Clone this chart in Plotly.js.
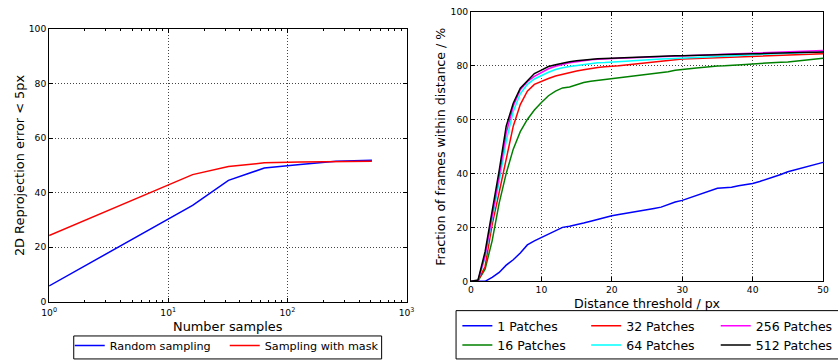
<!DOCTYPE html>
<html><head><meta charset="utf-8">
<script src="https://cdn.plot.ly/plotly-3.0.1.min.js"></script>
<style>html,body{margin:0;padding:0;background:#fff}#chart{width:838px;height:360px}</style>
</head><body><div id="chart"></div>
<script>
// ---- Left panel data ----
const samples = [1, 16, 32, 64, 128, 256, 512];
const randomSampling = [5.8, 35.3, 44.5, 49.0, 50.3, 51.5, 51.9];
const samplingWithMask = [24.3, 46.6, 49.6, 50.9, 51.2, 51.4, 51.5];
const leftNames = ['Random sampling', 'Sampling with mask'];
const leftXTickVals = [1, 10, 100, 1000];
const leftXTickText = ['10<sup>0</sup>', '10<sup>1</sup>', '10<sup>2</sup>', '10<sup>3</sup>'];

// ---- Right panel data ----
const dist = [0,1,2,3,4,5,6,7,8,9,10,11,12,13,14,15,16,17,18,19,20,21,22,23,24,25,26,27,28,29,30,31,32,33,34,35,36,37,38,39,40,41,42,43,44,45,46,47,48,49,50];
const p1 = [0,0,0,1.5,3.3,6.0,8.0,10.5,13.5,15.0,16.2,17.5,18.8,20.0,20.4,20.9,21.6,22.3,23.0,23.7,24.3,24.8,25.2,25.6,26.2,26.5,27.0,27.5,28.5,29.4,30.0,30.9,31.8,32.7,33.5,34.5,34.7,34.9,35.4,35.8,36.3,37.0,37.8,38.7,39.6,40.6,41.3,42.0,42.6,43.2,44.1];
const p16 = [0,0.2,4.5,15,29,40,49,55.5,60,63.5,66.3,68.8,70.5,71.7,72.0,72.9,73.7,74.2,74.5,74.8,75.1,75.5,75.9,76.2,76.5,76.8,77.0,77.3,77.7,78.2,78.6,78.8,79.1,79.4,79.6,79.8,79.9,80.0,80.2,80.4,80.6,80.8,81.0,81.1,81.2,81.3,81.5,81.8,82.1,82.4,82.7];
const p32 = [0,0.3,5.5,21,33,45,57.5,65.5,70.5,73,74.2,75.2,76.1,76.8,77.4,78.0,78.4,78.9,79.3,79.5,79.6,79.9,80.2,80.4,80.7,81.0,81.3,81.6,81.9,82.2,82.4,82.5,82.6,82.7,82.8,82.9,83.0,83.1,83.3,83.5,83.6,83.7,83.8,83.9,84.0,84.0,84.1,84.2,84.3,84.3,84.4];
const p64 = [0,0.3,9,22.5,37,52,63,69.5,73,75,76.3,77.5,78.5,79.2,79.6,80.0,80.4,80.8,81.0,81.1,81.2,81.4,81.6,81.8,82.0,82.2,82.3,82.4,82.5,82.6,82.7,82.8,82.9,83.0,83.2,83.3,83.4,83.5,83.7,83.8,84.0,84.1,84.2,84.3,84.4,84.5,84.6,84.7,84.8,84.9,85.0];
const p256 = [0,0.3,9.5,24,39,55,65,71,74,76,77.5,78.8,79.7,80.4,81.0,81.4,81.8,82.1,82.3,82.5,82.6,82.7,82.8,82.9,83.0,83.2,83.3,83.4,83.5,83.7,83.8,83.9,84.0,84.1,84.2,84.3,84.4,84.5,84.6,84.7,84.8,84.9,85.0,85.1,85.1,85.2,85.3,85.4,85.4,85.5,85.6];
const p512 = [0,0.5,11,25.5,41,57.5,66,71.6,74.5,77,78.3,79.6,80.3,80.9,81.4,81.8,82.1,82.3,82.5,82.6,82.7,82.9,83.0,83.2,83.3,83.4,83.4,83.5,83.5,83.6,83.6,83.7,83.8,83.8,83.9,84.0,84.1,84.1,84.2,84.3,84.4,84.4,84.5,84.6,84.6,84.7,84.8,84.8,84.9,84.9,85.0];
const patchNames = ['1 Patches','16 Patches','32 Patches','64 Patches','256 Patches','512 Patches'];
const patchSeries = [p1, p16, p32, p64, p256, p512];
const patchColors = ['#0000ff','#008000','#ff0000','#00ffff','#ff00ff','#000000'];
const patchLegends = ['legend2','legend2','legend3','legend3','legend4','legend4'];

const W = 838, H = 360;
const fx = p => p / W;
const fy = p => 1 - p / H;
const FONT = 'DejaVu Sans, sans-serif';

const traces = [];
traces.push({x: samples, y: randomSampling, name: leftNames[0], type: 'scatter', mode: 'lines',
  line: {color: '#0000ff', width: 1.5}, xaxis: 'x', yaxis: 'y', legend: 'legend'});
traces.push({x: samples, y: samplingWithMask, name: leftNames[1], type: 'scatter', mode: 'lines',
  line: {color: '#ff0000', width: 1.5}, xaxis: 'x', yaxis: 'y', legend: 'legend'});
patchSeries.forEach((s, i) => traces.push({x: dist, y: s, name: patchNames[i], type: 'scatter', mode: 'lines',
  line: {color: patchColors[i], width: 1.5}, xaxis: 'x2', yaxis: 'y2', legend: patchLegends[i]}));

const minorLog = [];
[1, 10, 100].forEach(d => { for (let k = 2; k <= 9; k++) minorLog.push(k * d); });

const axCommon = {
  showline: true, linecolor: '#000', linewidth: 1, mirror: 'ticks',
  ticks: 'inside', ticklen: 4, tickcolor: '#000', tickwidth: 1,
  showgrid: true, gridcolor: '#444', griddash: '1px,2px', gridwidth: 1,
  zeroline: false, tickfont: {family: FONT, size: 9.2, color: '#000'}, automargin: false
};

const legendCommon = {orientation: 'v', bgcolor: 'rgba(0,0,0,0)', borderwidth: 0,
  xanchor: 'left', yanchor: 'top', font: {family: FONT, size: 12.5, color: '#000'}};

const layout = {
  width: W, height: H, margin: {l: 0, r: 0, t: 0, b: 0},
  paper_bgcolor: '#fff', plot_bgcolor: '#fff', showlegend: true,
  font: {family: FONT, color: '#000'},
  xaxis: Object.assign({}, axCommon, {domain: [fx(49.3), fx(408)], type: 'log', range: [0, 3],
    tickmode: 'array', tickvals: leftXTickVals, ticktext: leftXTickText, anchor: 'y', ticklabelstandoff: 2,
    minor: {tickmode: 'array', tickvals: minorLog, ticks: 'inside', ticklen: 2, tickcolor: '#000', showgrid: false}}),
  yaxis: Object.assign({}, axCommon, {domain: [fy(306), fy(29.3)], range: [0, 100], dtick: 20, tick0: 0, anchor: 'x'}),
  xaxis2: Object.assign({}, axCommon, {domain: [fx(472.7), fx(826)], range: [0, 50], dtick: 10, tick0: 0, anchor: 'y2'}),
  yaxis2: Object.assign({}, axCommon, {domain: [fy(285.3), fy(11.7)], range: [0, 100], dtick: 20, tick0: 0, anchor: 'x2'}),
  legend: Object.assign({}, legendCommon, {orientation: 'h', x: fx(70), y: fy(336),
    entrywidth: 110, entrywidthmode: 'pixels', font: {family: FONT, size: 11.2, color: '#000'}}),
  legend2: Object.assign({}, legendCommon, {x: fx(459), y: fy(315.5)}),
  legend3: Object.assign({}, legendCommon, {x: fx(588.3), y: fy(315.5)}),
  legend4: Object.assign({}, legendCommon, {x: fx(718.3), y: fy(315.5)}),
  shapes: [
    {type: 'rect', xref: 'paper', yref: 'paper', x0: fx(74), x1: fx(383), y0: fy(364), y1: fy(340.7),
      line: {color: '#000', width: 1}, fillcolor: 'rgba(0,0,0,0)'},
    {type: 'rect', xref: 'paper', yref: 'paper', x0: fx(457.7), x1: fx(845), y0: fy(364), y1: fy(315),
      line: {color: '#000', width: 1}, fillcolor: 'rgba(0,0,0,0)'}
  ],
  annotations: [
    {text: 'Number samples', xref: 'paper', yref: 'paper', x: fx(228.5), y: fy(331), xanchor: 'center', yanchor: 'middle',
      showarrow: false, font: {family: FONT, size: 12.9, color: '#000'}},
    {text: '2D Reprojection error < 5px', xref: 'paper', yref: 'paper', x: fx(19), y: fy(167.5), xanchor: 'center', yanchor: 'middle',
      textangle: -90, showarrow: false, font: {family: FONT, size: 12.9, color: '#000'}},
    {text: 'Distance threshold / px', xref: 'paper', yref: 'paper', x: fx(649.4), y: fy(307.5), xanchor: 'center', yanchor: 'middle',
      showarrow: false, font: {family: FONT, size: 12.6, color: '#000'}},
    {text: 'Fraction of frames within distance / %', xref: 'paper', yref: 'paper', x: fx(442), y: fy(148.5), xanchor: 'center', yanchor: 'middle',
      textangle: -90, showarrow: false, font: {family: FONT, size: 12.6, color: '#000'}}
  ]
};

Plotly.newPlot('chart', traces, layout, {displayModeBar: false, staticPlot: true});
</script>
</body></html>
